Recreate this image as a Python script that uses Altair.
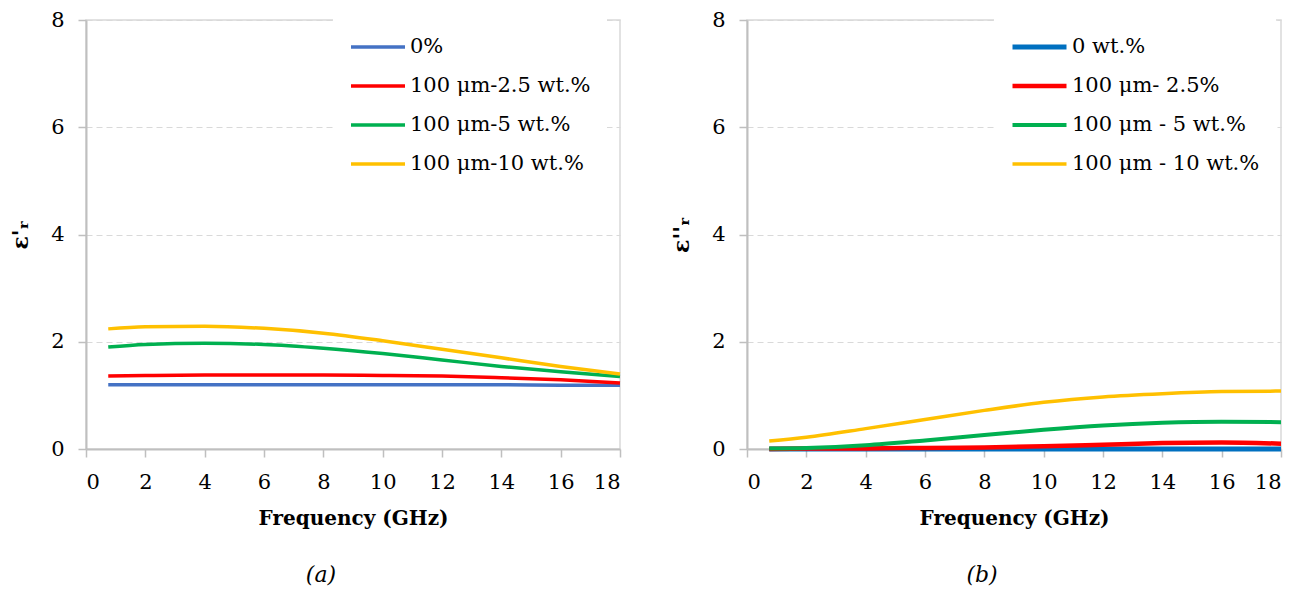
import altair as alt
import pandas as pd

# ---------------- data ----------------
freq = [0.75, 2, 4, 6, 8, 10, 12, 14, 16, 18]

# (a) real permittivity
a_series = ["0%", "100 μm-2.5 wt.%", "100 μm-5 wt.%", "100 μm-10 wt.%"]
a_0 = [1.20, 1.20, 1.20, 1.20, 1.20, 1.20, 1.20, 1.20, 1.19, 1.19]
a_25 = [1.36, 1.37, 1.38, 1.38, 1.38, 1.37, 1.36, 1.33, 1.29, 1.23]
a_5 = [1.90, 1.95, 1.97, 1.95, 1.88, 1.78, 1.66, 1.54, 1.44, 1.35]
a_10 = [2.24, 2.28, 2.29, 2.25, 2.16, 2.02, 1.86, 1.70, 1.54, 1.40]

# (b) imaginary permittivity
b_series = ["0 wt.%", "100 μm- 2.5%", "100 μm - 5 wt.%", "100 μm - 10 wt.%"]
b_0 = [0.00, 0.00, 0.00, 0.00, 0.00, 0.00, 0.00, 0.00, 0.00, 0.00]
b_25 = [0.00, 0.01, 0.01, 0.02, 0.03, 0.05, 0.08, 0.11, 0.12, 0.10]
b_5 = [0.01, 0.02, 0.07, 0.16, 0.26, 0.36, 0.44, 0.49, 0.51, 0.50]
b_10 = [0.15, 0.22, 0.38, 0.55, 0.72, 0.87, 0.97, 1.03, 1.07, 1.08]

x_ticks = [0, 2, 4, 6, 8, 10, 12, 14, 16, 18]
y_ticks = [0, 2, 4, 6, 8]

a_colors = ["#4472C4", "#FF0000", "#00B050", "#FFC000"]
b_colors = ["#0070C0", "#FF0000", "#00B050", "#FFC000"]
a_widths = [3.5, 3.5, 3.5, 3.5]
b_widths = [5, 3.5, 3.5, 3.5]


def long_df(series, cols):
    rows = []
    for name, vals in zip(series, cols):
        for f, v in zip(freq, vals):
            rows.append({"freq": f, "val": v, "series": name})
    return pd.DataFrame(rows)


df_a = long_df(a_series, [a_0, a_25, a_5, a_10])
df_b = long_df(b_series, [b_0, b_25, b_5, b_10])

FONT = "DejaVu Serif"


def panel(df, series, colors, widths, ytitle, caption):
    return (
        alt.Chart(df)
        .mark_line(interpolate="monotone")
        .encode(
            x=alt.X(
                "freq:Q",
                scale=alt.Scale(domain=[0, 18], nice=False, zero=False),
                axis=alt.Axis(
                    values=x_ticks,
                    title="Frequency (GHz)",
                    grid=False,
                    tickSize=8,
                    labelPadding=14,
                    titlePadding=16,
                ),
            ),
            y=alt.Y(
                "val:Q",
                scale=alt.Scale(domain=[0, 8], nice=False),
                axis=alt.Axis(
                    values=y_ticks,
                    title=ytitle,
                    titleFontSize=22,
                    grid=True,
                    gridDash=[6, 4],
                    gridColor="#D9D9D9",
                    tickSize=8,
                    labelPadding=14,
                    minExtent=40,
                    maxExtent=40,
                    titlePadding=14,
                ),
            ),
            color=alt.Color(
                "series:N",
                sort=series,
                scale=alt.Scale(domain=series, range=colors),
                legend=alt.Legend(
                    title=None,
                    orient="none",
                    legendX=247,
                    legendY=-1,
                    symbolType="stroke",
                    symbolSize=2916,
                    symbolStrokeWidth=3.5,
                    clipHeight=24,
                    rowPadding=15,
                    labelFont=FONT,
                    labelFontSize=21,
                    labelColor="#000000",
                    labelOffset=3,
                    labelLimit=400,
                    fillColor="white",
                    padding=16,
                ),
            ),
            strokeWidth=alt.StrokeWidth(
                "series:N",
                sort=series,
                scale=alt.Scale(domain=series, range=widths),
                legend=None,
            ),
        )
        .properties(
            width=534,
            height=429,
            title=alt.Title(
                caption,
                orient="bottom",
                font=FONT,
                fontSize=22,
                fontStyle="italic",
                fontWeight="normal",
                color="#000000",
                dx=-32,
                offset=37,
            ),
        )
    )


left = panel(df_a, a_series, a_colors, a_widths, "ε'ᵣ", "(a)")
right = panel(df_b, b_series, b_colors, b_widths, "ε''ᵣ", "(b)")

chart = (
    alt.hconcat(left, right, spacing=41)
    .resolve_scale(color="independent", strokeWidth="independent")
    .properties(padding={"left": 0, "top": 0, "right": 0, "bottom": 0})
    .configure_view(stroke="#D9D9D9", strokeWidth=1.5)
    .configure_axis(
        labelFont=FONT,
        labelFontSize=21,
        labelColor="#000000",
        titleFont=FONT,
        titleFontSize=20,
        titleFontWeight="bold",
        titleColor="#000000",
        domainColor="#BFBFBF",
        domainWidth=2,
        tickColor="#BFBFBF",
        tickWidth=1.5,
    )
)

chart.save("out.html", embed_options={"renderer": "svg", "actions": False})
